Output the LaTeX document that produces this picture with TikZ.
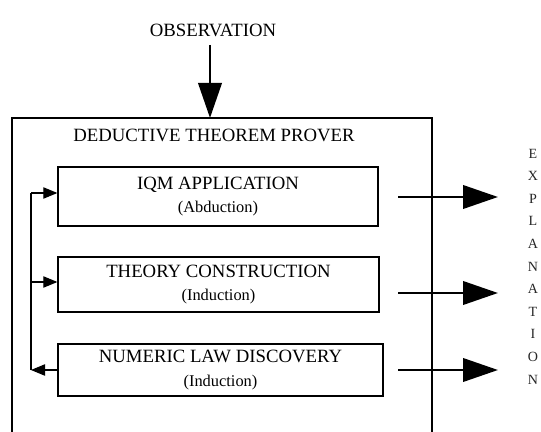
\documentclass[tikz,border=0pt]{standalone}
\usepackage{fontspec}
\setmainfont{Liberation Serif}
\usetikzlibrary{arrows.meta}
\tikzset{
    stage/.style={
           rectangle,
           draw=black, line width=1.1pt,
           align=center,
           inner sep=1pt,
           font=\fontsize{16}{20}\selectfont},
    bigarrow/.style={
           -{Triangle[length=1.05cm,width=0.7cm]},
           line width=2.4pt},
    loopedge/.style={
           -{Triangle[length=0.42cm,width=0.34cm]},
           line width=0.9pt},
    caps/.style={font=\fontsize{16}{20}\selectfont, inner sep=1pt}
    }
\newcommand{\sub}[1]{{\fontsize{14}{16}\selectfont #1}}
\begin{document}
\begin{tikzpicture}[x=0.03cm,y=-0.03cm]
      \useasboundingbox (0,0) rectangle (541,432);
      \node[caps] (obs) at (213,30) {OBSERVATION};
      \coordinate (top) at (210,118);
      \draw[line width=1.1pt] (12,432) -- (12,118) -- (432,118) -- (432,432);
      \node[caps] (dtp) at (214,135) {DEDUCTIVE THEOREM PROVER};
      \node[stage, minimum width=9.6cm, minimum height=1.77cm] (1) at (218,196.5) {IQM APPLICATION \\ \sub{(Abduction)}};
      \node[stage, minimum width=9.63cm, minimum height=1.65cm] (2) at (218.5,284.5) {THEORY CONSTRUCTION \\ \sub{(Induction)}};
      \node[stage, minimum width=9.75cm, minimum height=1.56cm] (3) at (220.5,370) {NUMERIC LAW DISCOVERY \\ \sub{(Induction)}};
      \node[align=center, text=black!85, font=\fontsize{12}{19.3}\selectfont] (expl) at (533,266.5) {E\\X\\P\\L\\A\\N\\A\\T\\I\\O\\N};
      % feedback loop on the left
      \coordinate (lt) at (31,193);
      \coordinate (lb) at (31,370);
      \draw[bigarrow, shorten <=6pt] (obs.south -| top) -- (top);
      \draw[loopedge] (3.west) -- (lb);
      \draw[line width=0.9pt] (lb) -- (lt);
      \draw[loopedge] (lt) -- (lt -| 1.west);
      \draw[loopedge] (lt |- 0,282) -- (2.west |- 0,282);
      % outputs
      \coordinate (o1) at (398,197);
      \coordinate (e1) at (498,197);
      \coordinate (o2) at (398,293);
      \coordinate (e2) at (498,293);
      \coordinate (o3) at (398,370);
      \coordinate (e3) at (498,370);
      \draw[bigarrow] (o1) -- (e1);
      \draw[bigarrow] (o2) -- (e2);
      \draw[bigarrow] (o3) -- (e3);
\end{tikzpicture}
\end{document}
